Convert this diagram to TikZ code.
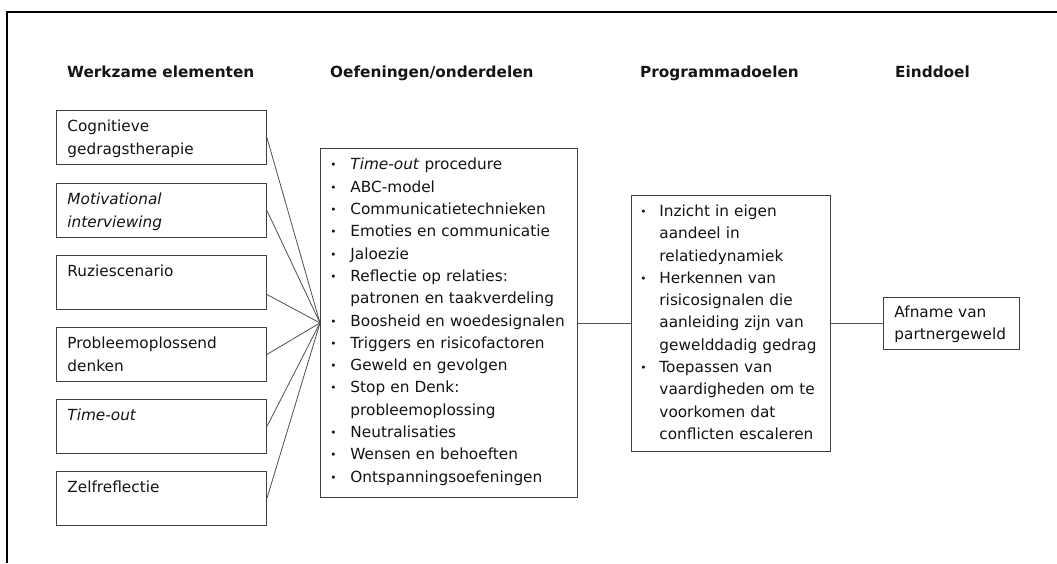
\documentclass[tikz,border=0pt]{standalone}
\usepackage{fontspec}
\setmainfont{DejaVu Sans}
\newcommand\bul[2]{\makebox[#1][l]{\hspace{#2}\raisebox{1pt}{\fontsize{10.5}{10.5}\selectfont •}}}
\definecolor{boxc}{HTML}{404040}
\definecolor{linec}{HTML}{505050}
\definecolor{txtc}{HTML}{141414}
\begin{document}
\begin{tikzpicture}[x=1pt,y=-1pt,
  basefont/.style={font=\fontsize{15.3}{22.3}\selectfont, text=txtc},
  hdr/.style={basefont, font=\fontsize{15.3}{22.3}\selectfont\bfseries, anchor=base west, inner sep=0pt},
  box/.style={basefont, draw=boxc, line width=0.9pt, anchor=north west, align=left, inner ysep=0pt},
  lbox/.style={box, text width=188pt, inner xsep=11pt, text height=21.5pt, text depth=32.5pt},
  conn/.style={draw=linec, line width=0.8pt}
]
\useasboundingbox (0,0) rectangle (1057,563);
\fill[white] (0,0) rectangle (1057,563);
% outer frame (only top and left edges visible)
\draw[line width=1.8pt, black] (1057,12) -- (7,12) -- (7,563);

% headers
\node[hdr] (h1) at (67,77) {Werkzame elementen};
\node[hdr] (h2) at (330,77) {Oefeningen/onderdelen};
\node[hdr] (h3) at (640,77) {Programmadoelen};
\node[hdr] (h4) at (895,77) {Einddoel};

% left boxes
\node[lbox] (b1) at (56,110) {Cognitieve\\gedragstherapie};
\node[lbox] (b2) at (56,183) {\textit{Motivational}\\\textit{interviewing}};
\node[lbox] (b3) at (56,255) {Ruziescenario};
\node[lbox] (b4) at (56,327) {Probleemoplossend\\denken};
\node[lbox] (b5) at (56,399) {\textit{Time-out}};
\node[lbox] (b6) at (56,471) {Zelfreflectie};

% middle box
\node[box, text width=249pt, inner xsep=4pt, text height=21.5pt, text depth=327.5pt] (mid) at (320,148) {%
\bul{26pt}{6pt}\textit{Time-out} procedure\\
\bul{26pt}{6pt}ABC-model\\
\bul{26pt}{6pt}Communicatietechnieken\\
\bul{26pt}{6pt}Emoties en communicatie\\
\bul{26pt}{6pt}Jaloezie\\
\bul{26pt}{6pt}Reflectie op relaties:\\
\hspace*{26pt}patronen en taakverdeling\\
\bul{26pt}{6pt}Boosheid en woedesignalen\\
\bul{26pt}{6pt}Triggers en risicofactoren\\
\bul{26pt}{6pt}Geweld en gevolgen\\
\bul{26pt}{6pt}Stop en Denk:\\
\hspace*{26pt}probleemoplossing\\
\bul{26pt}{6pt}Neutralisaties\\
\bul{26pt}{6pt}Wensen en behoeften\\
\bul{26pt}{6pt}Ontspanningsoefeningen};

% programme goals box
\node[box, text width=191pt, inner xsep=4pt, text height=21.5pt, text depth=234.5pt] (prog) at (631,194.5) {%
\bul{24pt}{5pt}Inzicht in eigen\\
\hspace*{24pt}aandeel in\\
\hspace*{24pt}relatiedynamiek\\
\bul{24pt}{5pt}Herkennen van\\
\hspace*{24pt}risicosignalen die\\
\hspace*{24pt}aanleiding zijn van\\
\hspace*{24pt}gewelddadig gedrag\\
\bul{24pt}{5pt}Toepassen van\\
\hspace*{24pt}vaardigheden om te\\
\hspace*{24pt}voorkomen dat\\
\hspace*{24pt}conflicten escaleren};

% end goal box
\node[box, text width=128pt, inner xsep=4pt, text height=20.5pt, text depth=31.5pt] (end) at (883,296.5) {%
\hspace*{7pt}Afname van\\
\hspace*{7pt}partnergeweld};

% connectors
\draw[conn] (b1.east) -- (mid.west);
\draw[conn] (b2.east) -- (mid.west);
\draw[conn] ([yshift=-12pt]b3.east) -- (mid.west);
\draw[conn] (b4.east) -- (mid.west);
\draw[conn] (b5.east) -- (mid.west);
\draw[conn] (b6.east) -- (mid.west);
\draw[conn] (mid.east) -- (prog.west);
\draw[conn] (prog.east) -- (end.west);
\end{tikzpicture}
\end{document}
